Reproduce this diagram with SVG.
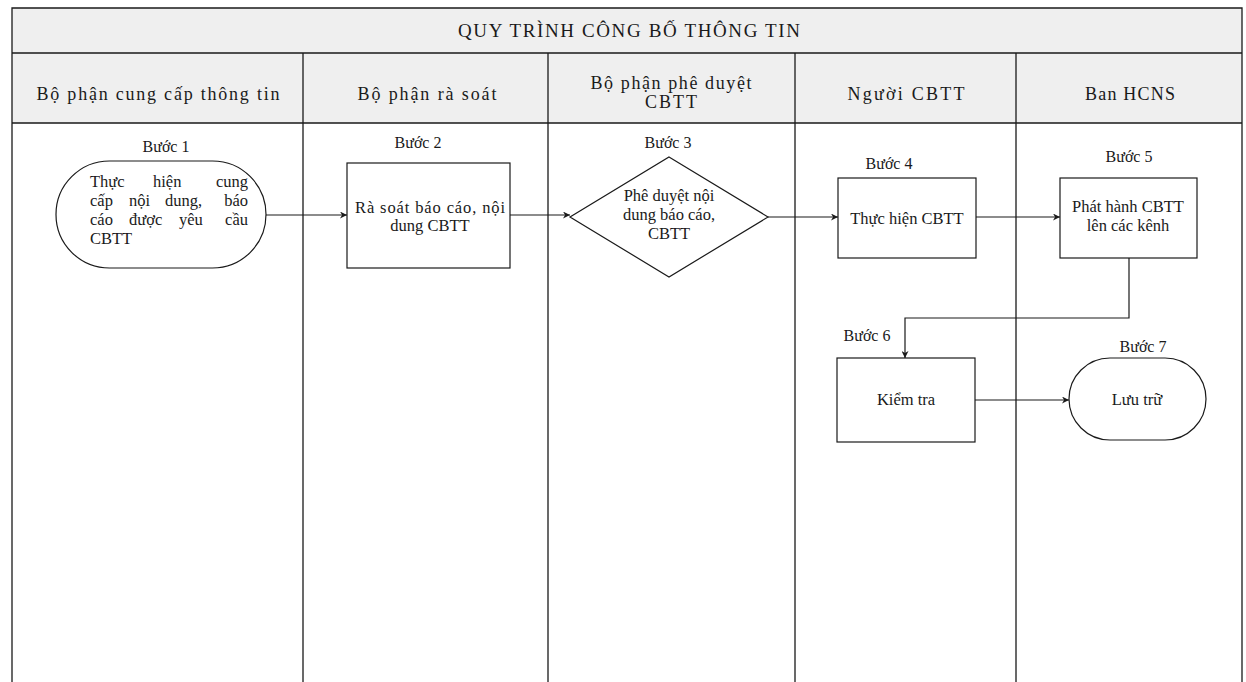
<svg xmlns="http://www.w3.org/2000/svg" width="1246" height="682" viewBox="0 0 1246 682">
<style>
text{font-family:"Liberation Serif","Times New Roman","DejaVu Serif",serif;fill:#1a1a1a}
.hd{font-size:18px}
.tx{font-size:16.5px}
.lab{font-size:16px}
.ln{stroke:#1a1a1a;stroke-width:1.3;fill:none}
.sh{stroke:#1a1a1a;stroke-width:1.2;fill:#fff}
.cn{stroke:#1a1a1a;stroke-width:1.2;fill:none;marker-end:url(#ah)}
</style>
<defs>
<marker id="ah" viewBox="0 0 10 10" refX="10" refY="5" markerWidth="7" markerHeight="7" markerUnits="userSpaceOnUse" orient="auto">
<path d="M0,0 L10,5 L0,10 L3,5 Z" fill="#1a1a1a"/>
</marker>
</defs>
<rect width="1246" height="682" fill="#fff"/>
<g id="lanes">
<rect x="12" y="8" width="1230" height="115" fill="#efefef"/>
<path class="ln" d="M12,682 V8 H1242 V682 M12,53 H1242 M12,123 H1242 M303,53 V682 M548,53 V682 M795,53 V682 M1016,53 V682"/>
<text x="629" y="37" font-size="19" text-anchor="middle" textLength="342" lengthAdjust="spacing">QUY TRÌNH CÔNG BỐ THÔNG TIN</text>
<text class="hd" x="158" y="100" text-anchor="middle" textLength="243" lengthAdjust="spacing">Bộ phận cung cấp thông tin</text>
<text class="hd" x="427" y="100" text-anchor="middle" textLength="139" lengthAdjust="spacing">Bộ phận rà soát</text>
<text class="hd" x="671" y="89" text-anchor="middle" textLength="161" lengthAdjust="spacing">Bộ phận phê duyệt</text>
<text class="hd" x="671" y="108" text-anchor="middle" textLength="52" lengthAdjust="spacing">CBTT</text>
<text class="hd" x="906" y="100" text-anchor="middle" textLength="117" lengthAdjust="spacing">Người CBTT</text>
<text class="hd" x="1130" y="100" text-anchor="middle" textLength="90" lengthAdjust="spacing">Ban HCNS</text>
</g>
<g id="connectors">
<path class="cn" d="M266,215 H347"/>
<path class="cn" d="M510,215 H570"/>
<path class="cn" d="M768,217 H838"/>
<path class="cn" d="M976,217 H1060"/>
<path class="cn" d="M1129,258 V318 H905 V358"/>
<path class="cn" d="M975,400 H1069"/>
</g>
<g id="step1">
<text class="lab" x="166" y="152" text-anchor="middle">Bước 1</text>
<rect class="sh" x="56" y="161" width="210" height="107" rx="53.5" ry="53.5"/>
<text class="tx" y="187"><tspan x="90">Thực</tspan><tspan x="153">hiện</tspan><tspan x="248" text-anchor="end">cung</tspan></text>
<text class="tx" y="206"><tspan x="90">cấp</tspan><tspan x="129">nội</tspan><tspan x="165">dung,</tspan><tspan x="248" text-anchor="end">báo</tspan></text>
<text class="tx" y="225"><tspan x="90">cáo</tspan><tspan x="129">được</tspan><tspan x="179">yêu</tspan><tspan x="248" text-anchor="end">cầu</tspan></text>
<text class="tx" x="90" y="244">CBTT</text>
</g>
<g id="step2">
<text class="lab" x="418" y="148" text-anchor="middle">Bước 2</text>
<rect class="sh" x="347" y="163" width="163" height="105"/>
<text class="tx" x="430" y="213" text-anchor="middle" textLength="150" lengthAdjust="spacing">Rà soát báo cáo, nội</text>
<text class="tx" x="430" y="231" text-anchor="middle">dung CBTT</text>
</g>
<g id="step3">
<text class="lab" x="668" y="148" text-anchor="middle">Bước 3</text>
<path class="sh" d="M669,157 L768,217 L669,277 L570,217 Z"/>
<text class="tx" x="669" y="201" text-anchor="middle">Phê duyệt nội</text>
<text class="tx" x="669" y="220" text-anchor="middle">dung báo cáo,</text>
<text class="tx" x="669" y="239" text-anchor="middle">CBTT</text>
</g>
<g id="step4">
<text class="lab" x="889" y="169" text-anchor="middle">Bước 4</text>
<rect class="sh" x="838" y="178" width="138" height="80"/>
<text class="tx" x="907" y="224" text-anchor="middle">Thực hiện CBTT</text>
</g>
<g id="step5">
<text class="lab" x="1129" y="162" text-anchor="middle">Bước 5</text>
<rect class="sh" x="1060" y="178" width="137" height="80"/>
<text class="tx" x="1128" y="212" text-anchor="middle">Phát hành CBTT</text>
<text class="tx" x="1128" y="231" text-anchor="middle">lên các kênh</text>
</g>
<g id="step6">
<text class="lab" x="867" y="341" text-anchor="middle">Bước 6</text>
<rect class="sh" x="837" y="358" width="138" height="84"/>
<text class="tx" x="906" y="405" text-anchor="middle">Kiểm tra</text>
</g>
<g id="step7">
<text class="lab" x="1143" y="352" text-anchor="middle">Bước 7</text>
<rect class="sh" x="1069" y="358" width="137" height="82" rx="41" ry="41"/>
<text class="tx" x="1137" y="405" text-anchor="middle">Lưu trữ</text>
</g>
</svg>
